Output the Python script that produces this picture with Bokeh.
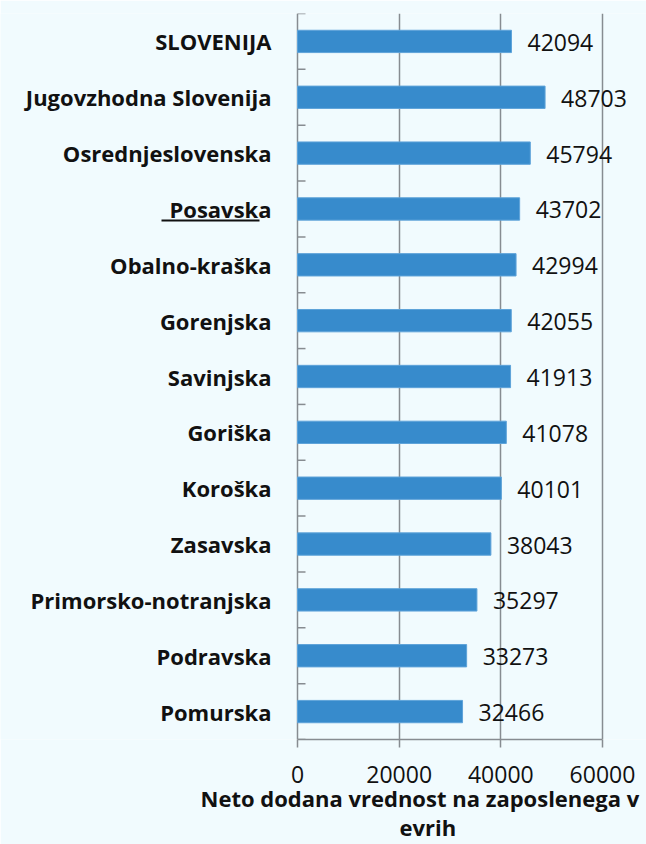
from bokeh.plotting import figure
from bokeh.models import (ColumnDataSource, Range1d, FixedTicker, Title,
                          BoxAnnotation, BasicTickFormatter)
from bokeh.embed import file_html
from bokeh.resources import INLINE
from bokeh.core.properties import value

# ---- data ----
regions = ["SLOVENIJA", "Jugovzhodna Slovenija", "Osrednjeslovenska", "Posavska",
           "Obalno-kraška", "Gorenjska", "Savinjska", "Goriška", "Koroška",
           "Zasavska", "Primorsko-notranjska", "Podravska", "Pomurska"]
values = [42094, 48703, 45794, 43702, 42994, 42055, 41913, 41078, 40101,
          38043, 35297, 33273, 32466]
x_ticks = [0, 20000, 40000, 60000]
axis_title_1 = "Neto dodana vrednost na zaposlenega v"
axis_title_2 = "evrih"

n = len(regions)
ypos = [n - 1 - i for i in range(n)]
bounds_y = [k - 0.5 for k in range(n + 1)]
src = ColumnDataSource(dict(y=ypos, v=values, zero=[0] * n, name=regions,
                            lab=[str(v) for v in values]))

FONT = "Open Sans"
BG = "#f1fbfe"
GRAY = "#878c91"
BAR = "#378bcc"
TXT = "#111111"

# frame spans the whole width; value 0 sits 297px from the left edge,
# 60000 at 602px (305px per 60000)
PX = 60000 / 305
p = figure(frame_width=646, frame_height=726, output_backend="svg",
           toolbar_location=None, y_axis_location=None,
           x_range=Range1d(-297 * PX, 349 * PX), y_range=Range1d(-0.5, n - 0.5),
           min_border_left=0, min_border_right=0, min_border_top=13,
           min_border_bottom=105)
p.background_fill_color = BG
p.border_fill_color = BG
p.outline_line_color = None

p.hbar(y="y", left=0, right="v", height=0.4, source=src,
       fill_color=BAR, line_color="#5ea3d9", line_width=1)
# value labels
p.text(x="v", y="y", text="lab", source=src, x_offset=16, y_offset=1,
       text_align="left", text_baseline="middle", text_font=value(FONT),
       text_font_size="23px", text_color=TXT)
# category labels (left of the value axis)
p.text(x="zero", y="y", text="name", source=src, x_offset=-26, y_offset=0,
       text_align="right", text_baseline="middle", text_font=value(FONT),
       text_font_style="bold", text_font_size="22px", text_color=TXT)
# category boundary ticks on the vertical axis
p.ray(x=[0] * (n + 1), y=bounds_y, length=8, length_units="screen", angle=0,
      line_color=GRAY, line_width=1.5)

# x axis
xa = p.xaxis[0]
xa.ticker = FixedTicker(ticks=x_ticks)
xa.formatter = BasicTickFormatter(use_scientific=False)
xa.bounds = (x_ticks[0], x_ticks[-1])
xa.axis_line_color = GRAY
xa.axis_line_width = 1.5
xa.major_tick_line_color = GRAY
xa.major_tick_line_width = 1.5
xa.major_tick_in = 0
xa.major_tick_out = 8
xa.minor_tick_line_color = None
xa.major_label_text_font = FONT
xa.major_label_text_font_size = "23px"
xa.major_label_text_color = TXT
xa.major_label_standoff = 18

p.ygrid.grid_line_color = None
p.xgrid.ticker = FixedTicker(ticks=x_ticks)
p.xgrid.grid_line_color = GRAY
p.xgrid.grid_line_width = 1.5

# underline under "Posavska"
p.add_layout(BoxAnnotation(left=161, right=259, top=219, bottom=221,
                           left_units="canvas", right_units="canvas",
                           bottom_units="canvas", top_units="canvas",
                           fill_color=TXT, fill_alpha=1, line_color=None))

# axis title (two lines)
p.add_layout(Title(text=axis_title_1, align="left", offset=200, standoff=-10,
                   vertical_align="bottom",
                   text_font=FONT, text_font_style="bold",
                   text_font_size="22px", text_color=TXT), "below")
p.add_layout(Title(text=axis_title_2, align="left", offset=399, standoff=4,
                   vertical_align="bottom",
                   text_font=FONT, text_font_style="bold",
                   text_font_size="22px", text_color=TXT), "below")

open("out.html", "w").write(file_html(p, INLINE))
